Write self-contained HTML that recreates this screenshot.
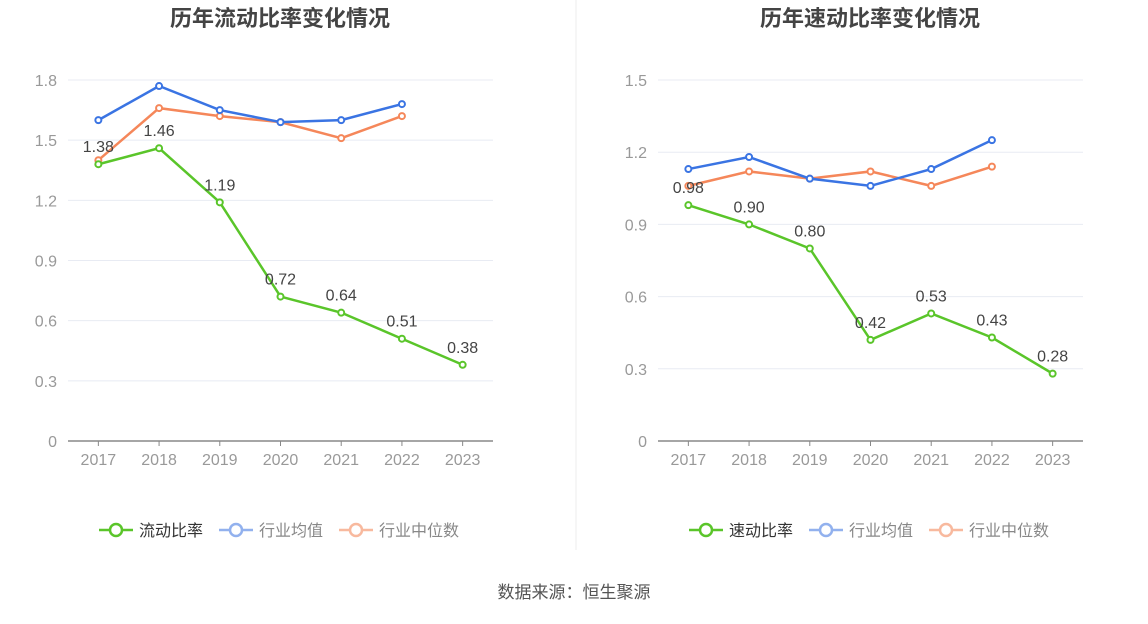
<!DOCTYPE html>
<html><head><meta charset="utf-8"><style>
body{margin:0;background:#fff;font-family:"Liberation Sans","Noto Sans CJK SC",sans-serif;}
svg text{font-family:"Liberation Sans","Noto Sans CJK SC",sans-serif;}
</style></head><body>
<svg id="c" width="1148" height="619" xmlns="http://www.w3.org/2000/svg">
<line x1="576" y1="0" x2="576" y2="550" stroke="#eeeeee"/>
<text x="574" y="598" text-anchor="middle" font-size="17" fill="#555">数据来源：恒生聚源</text>
</svg>
<script>
const years = ["2017","2018","2019","2020","2021","2022","2023"];
const currentRatio = [1.38,1.46,1.19,0.72,0.64,0.51,0.38];
const currentAvg = [1.60,1.77,1.65,1.59,1.60,1.68];
const currentMedian = [1.40,1.66,1.62,1.59,1.51,1.62];
const currentTicks = [0,0.3,0.6,0.9,1.2,1.5,1.8];
const quickRatio = [0.98,0.90,0.80,0.42,0.53,0.43,0.28];
const quickAvg = [1.13,1.18,1.09,1.06,1.13,1.25];
const quickMedian = [1.06,1.12,1.09,1.12,1.06,1.14];
const quickTicks = [0,0.3,0.6,0.9,1.2,1.5];

const svg = document.getElementById('c');
const NS = 'http://www.w3.org/2000/svg';
function mk(tag, attrs, parent){const e=document.createElementNS(NS,tag);for(const k in attrs)e.setAttribute(k,attrs[k]);(parent||svg).appendChild(e);return e;}

function panel(ox, title, main, avg, med, ticks, mainName, key){
  const g = mk('g',{});
  
  
  const left=ox+68, right=ox+493, y0=441, ytop=80;
  const maxT = ticks[ticks.length-1];
  const ys = v => y0 - (v/maxT)*(y0-ytop);
  const step=(right-left)/years.length;
  const xs = i => left + step*(i+0.5);
  const t = mk('text',{x:ox+280,y:26,'text-anchor':'middle','font-size':22,'font-weight':'bold',fill:'#444'},g);
  t.textContent=title;
  
  
  ticks.forEach(v=>{
    if(v>0){const l=mk('line',{x1:left,x2:right,y1:ys(v),y2:ys(v),stroke:'#e8ebf3'},g);
    
    }
    const tx=mk('text',{x:ox+57,y:ys(v)+6,'text-anchor':'end','font-size':16,fill:'#999'},g);
    tx.textContent=String(v);
    
    
  });
  const ax=mk('line',{x1:left,x2:right,y1:y0,y2:y0,stroke:'#888','stroke-width':1.5},g);
  
  
  years.forEach((y,i)=>{
    mk('line',{x1:xs(i),x2:xs(i),y1:y0,y2:y0+5,stroke:'#888'},g);
    const tx=mk('text',{x:xs(i),y:y0+24,'text-anchor':'middle','font-size':16,fill:'#999'},g);
    tx.textContent=y;
    
    
  });
  function series(vals,color,name){
    const pts=vals.map((v,i)=>xs(i)+','+ys(v)).join(' ');
    const pl=mk('polyline',{points:pts,fill:'none',stroke:color,'stroke-width':2.5},g);
    
    
    vals.forEach((v,i)=>{
      const c=mk('circle',{cx:xs(i),cy:ys(v),r:3,fill:'#fff',stroke:color,'stroke-width':2},g);
      
      
    });
  }
  series(med,'#f5875a','median');
  series(avg,'#3a74e3','average');
  series(main,'#5ac52a','main');
  main.forEach((v,i)=>{
    const tx=mk('text',{x:xs(i),y:ys(v)-12,'text-anchor':'middle','font-size':16,fill:'#444'},g);
    tx.textContent=v.toFixed(2);
    
    
  });
  const legend=[[mainName,'#5ac52a','#333',ox+99],['行业均值','#92b1ee','#888',ox+219],['行业中位数','#f8b99e','#888',ox+339]];
  legend.forEach(([n,c,tc,lx])=>{
    const lg=mk('g',{},g);
    
    
    mk('line',{x1:lx,x2:lx+34,y1:530,y2:530,stroke:c,'stroke-width':2.5},lg);
    mk('circle',{cx:lx+17,cy:530,r:6,fill:'#fff',stroke:c,'stroke-width':2.5},lg);
    const tx=mk('text',{x:lx+40,y:536,'font-size':16,fill:tc},lg);
    tx.textContent=n;
  });
}
panel(0,'历年流动比率变化情况',currentRatio,currentAvg,currentMedian,currentTicks,'流动比率','current-ratio');
panel(590,'历年速动比率变化情况',quickRatio,quickAvg,quickMedian,quickTicks,'速动比率','quick-ratio');
</script>
</body></html>
